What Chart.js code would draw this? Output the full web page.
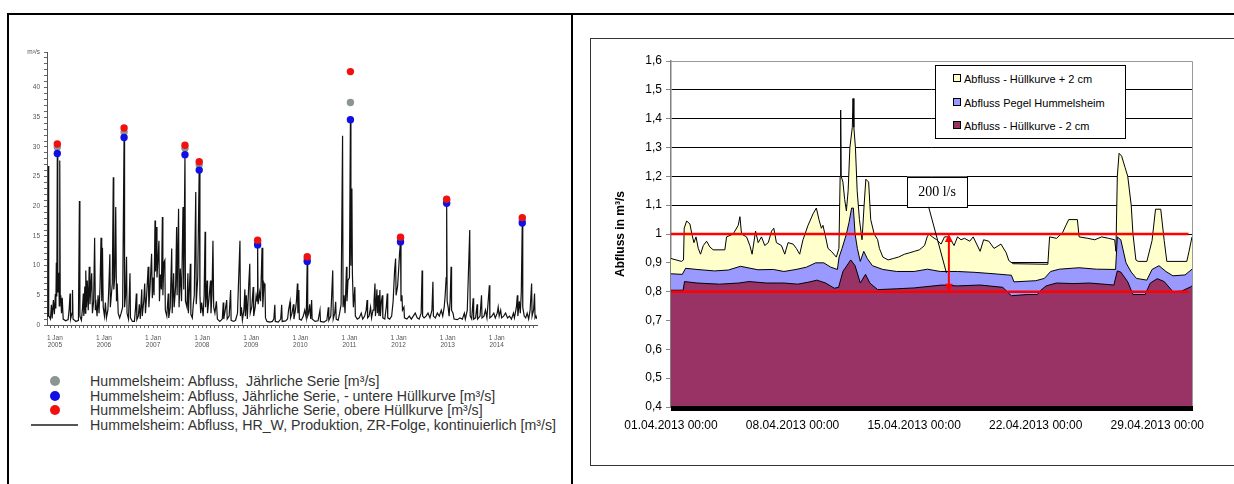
<!DOCTYPE html>
<html lang="de">
<head>
<meta charset="UTF-8">
<title>Abfluss Hummelsheim</title>
<script src="https://cdn.jsdelivr.net/npm/chart.js"></script>
<style>
  body { margin:0; width:1234px; height:484px; overflow:hidden; background:#fff; position:relative;
         font-family:"Liberation Sans", Arial, sans-serif; }
  .rule { position:absolute; background:#000; }
  #leftCanvas { position:absolute; left:10px; top:40px; }
  #rightBox { position:absolute; left:590px; top:38px; width:660px; height:426px; border:1px solid #333; }
  #rightCanvas { position:absolute; left:591px; top:39px; }
  .lrow { position:absolute; left:30px; height:16px; line-height:16px; font-size:14.2px; color:#333; white-space:pre; }
  .lmark { display:inline-block; width:50px; height:16px; vertical-align:top; position:relative; }
  .lmark .dot { position:absolute; left:20px; top:3px; width:10px; height:10px; border-radius:50%; }
  .lmark .ln { position:absolute; left:1px; top:7px; width:47px; height:2px; background:#555; }
  .ltext { margin-left:10px; }
  #rightLegend { position:absolute; left:935px; top:65px; width:189px; height:72px; border:1px solid #000; background:#fff; }
  .rrow { position:absolute; left:17px; height:14px; line-height:14px; font-size:11px; color:#000; white-space:nowrap; }
  .rrow .sq { display:inline-block; width:6px; height:6px; border:1px solid #000; margin-right:3px; vertical-align:1px; }
</style>
</head>
<body>
<div class="rule" style="left:8px; top:13px; width:1230px; height:2px;"></div>
<div class="rule" style="left:7px; top:13px; width:2px; height:480px;"></div>
<div class="rule" style="left:571px; top:13px; width:2px; height:480px;"></div>

<canvas id="leftCanvas" width="555" height="320"></canvas>
<div id="leftLegend"></div>

<div id="rightBox"></div>
<canvas id="rightCanvas" width="643" height="425"></canvas>
<div id="rightLegend"></div>

<script>
// ---------- left chart: Hummelsheim 2005-2014 ----------
const yearTicks = [2005, 2006, 2007, 2008, 2009, 2010, 2011, 2012, 2013, 2014];

// continuous discharge [decimal year, m³/s]
const flowSeries = [
  [2004.84,1.5],[2004.86,2.6],[2004.87,26.8],[2004.875,1.6],[2004.91,1.0],[2004.93,3.4],[2004.945,1.1],
  [2004.97,4.2],[2004.99,1.8],[2005.01,5.2],[2005.02,2.8],[2005.03,10.5],[2005.04,4.8],[2005.05,29.0],
  [2005.06,5.5],[2005.08,8.8],[2005.09,3.2],[2005.10,27.7],[2005.11,3.8],[2005.12,5.0],[2005.135,2.0],
  [2005.15,4.6],[2005.17,1.0],[2005.22,0.7],[2005.27,0.9],[2005.29,2.5],[2005.31,5.3],[2005.32,1.0],
  [2005.35,2.0],[2005.36,5.9],[2005.37,1.0],[2005.43,0.6],[2005.48,0.8],[2005.50,20.9],[2005.51,1.5],
  [2005.54,0.8],[2005.56,2.5],[2005.58,5.3],[2005.59,1.5],[2005.61,6.5],[2005.62,2.0],[2005.63,9.2],
  [2005.645,3.0],[2005.66,7.5],[2005.68,2.5],[2005.70,9.8],[2005.715,3.5],[2005.73,6.0],[2005.75,8.7],
  [2005.765,2.0],[2005.79,4.0],[2005.81,14.7],[2005.825,2.5],[2005.84,3.5],[2005.86,1.5],[2005.88,5.0],
  [2005.90,2.0],[2005.92,6.5],[2005.94,14.7],[2005.955,4.0],[2005.97,13.0],[2005.985,3.0],[2006.01,1.5],
  [2006.03,3.8],[2006.05,1.2],[2006.08,2.5],[2006.10,6.5],[2006.12,11.9],[2006.13,3.0],[2006.15,5.0],
  [2006.17,7.0],[2006.19,24.9],[2006.20,6.0],[2006.22,8.0],[2006.24,19.9],[2006.255,4.0],[2006.27,7.0],
  [2006.29,2.0],[2006.32,1.2],[2006.35,2.0],[2006.38,3.0],[2006.41,31.7],[2006.42,3.0],[2006.44,5.0],
  [2006.46,11.5],[2006.47,2.0],[2006.50,1.0],[2006.53,8.7],[2006.54,1.2],[2006.58,0.6],[2006.62,0.6],
  [2006.64,2.5],[2006.66,5.3],[2006.67,0.9],[2006.70,1.5],[2006.72,3.5],[2006.74,1.0],[2006.77,6.0],
  [2006.78,1.5],[2006.81,4.0],[2006.83,7.0],[2006.845,2.0],[2006.87,5.0],[2006.90,9.8],[2006.915,3.0],
  [2006.94,6.5],[2006.97,12.0],[2006.985,4.5],[2007.00,8.0],[2007.02,5.0],[2007.04,17.6],[2007.05,9.0],
  [2007.07,16.5],[2007.08,8.0],[2007.10,11.0],[2007.12,14.2],[2007.13,4.0],[2007.15,8.5],[2007.17,6.0],
  [2007.19,18.2],[2007.20,5.0],[2007.22,10.5],[2007.24,10.9],[2007.25,2.5],[2007.28,1.5],[2007.31,5.3],
  [2007.32,1.2],[2007.35,3.0],[2007.38,12.9],[2007.39,2.0],[2007.42,8.7],[2007.43,3.0],[2007.46,6.5],
  [2007.48,16.5],[2007.49,5.0],[2007.52,19.6],[2007.53,3.0],[2007.555,9.5],[2007.58,4.0],[2007.61,19.9],
  [2007.625,6.0],[2007.65,28.8],[2007.66,4.0],[2007.69,3.0],[2007.71,8.7],[2007.72,2.0],[2007.74,6.0],
  [2007.76,10.3],[2007.77,1.8],[2007.80,1.2],[2007.82,3.5],[2007.84,5.0],[2007.87,22.4],[2007.88,3.5],
  [2007.91,8.0],[2007.94,26.3],[2007.955,5.0],[2007.97,2.0],[2007.99,3.8],[2008.02,1.5],[2008.04,5.0],
  [2008.06,15.7],[2008.07,3.0],[2008.10,7.5],[2008.11,2.0],[2008.14,4.5],[2008.17,7.5],[2008.18,2.0],
  [2008.20,5.0],[2008.22,14.2],[2008.235,3.0],[2008.26,2.0],[2008.29,4.0],[2008.31,1.0],[2008.36,0.6],
  [2008.41,1.0],[2008.43,3.8],[2008.44,1.0],[2008.47,2.5],[2008.50,4.2],[2008.51,1.0],[2008.55,1.5],
  [2008.58,5.9],[2008.59,0.8],[2008.64,0.6],[2008.68,0.8],[2008.72,2.0],[2008.77,14.2],[2008.78,1.5],
  [2008.80,3.0],[2008.82,0.8],[2008.85,2.5],[2008.87,6.0],[2008.88,1.5],[2008.90,5.0],[2008.92,1.0],
  [2008.95,7.0],[2008.97,10.3],[2008.98,2.0],[2009.01,3.0],[2009.04,6.4],[2009.05,1.5],[2009.08,3.0],
  [2009.10,5.0],[2009.12,4.0],[2009.13,13.5],[2009.14,3.5],[2009.17,5.5],[2009.19,4.0],[2009.22,13.0],
  [2009.235,3.0],[2009.26,7.0],[2009.28,6.4],[2009.29,1.2],[2009.32,0.6],[2009.38,0.5],[2009.43,0.6],
  [2009.46,1.0],[2009.48,3.4],[2009.49,0.6],[2009.55,0.5],[2009.60,1.0],[2009.62,3.4],[2009.63,0.6],
  [2009.70,0.7],[2009.74,1.0],[2009.76,2.5],[2009.79,3.9],[2009.80,1.2],[2009.83,2.0],[2009.86,3.5],
  [2009.87,1.0],[2009.90,2.5],[2009.92,4.0],[2009.94,7.0],[2009.95,2.0],[2009.97,5.9],[2009.98,1.0],
  [2010.02,0.8],[2010.06,1.5],[2010.09,2.5],[2010.12,1.2],[2010.14,10.7],[2010.15,1.5],[2010.17,2.0],
  [2010.19,3.5],[2010.21,1.0],[2010.23,4.2],[2010.24,1.0],[2010.30,0.6],[2010.36,0.7],[2010.40,2.5],
  [2010.41,0.6],[2010.48,0.5],[2010.54,0.8],[2010.57,3.0],[2010.58,0.8],[2010.62,1.5],[2010.66,9.2],
  [2010.67,1.0],[2010.70,2.0],[2010.72,3.9],[2010.73,1.0],[2010.77,0.8],[2010.80,2.0],[2010.83,3.5],
  [2010.86,31.9],[2010.87,3.0],[2010.89,5.0],[2010.91,2.0],[2010.94,9.8],[2010.95,4.0],[2010.97,7.5],
  [2011.00,8.0],[2011.02,34.7],[2011.03,10.0],[2011.05,23.0],[2011.06,8.7],[2011.08,3.0],[2011.11,6.4],
  [2011.12,1.5],[2011.16,1.0],[2011.20,1.2],[2011.24,2.0],[2011.27,1.0],[2011.31,1.5],[2011.34,2.5],
  [2011.36,4.2],[2011.37,1.2],[2011.40,1.5],[2011.43,3.0],[2011.45,1.2],[2011.48,2.5],[2011.50,4.0],
  [2011.52,7.0],[2011.53,1.5],[2011.56,6.0],[2011.57,2.0],[2011.59,5.0],[2011.60,1.5],[2011.62,5.9],
  [2011.63,1.5],[2011.65,4.0],[2011.67,5.0],[2011.68,1.2],[2011.72,1.0],[2011.75,3.0],[2011.77,5.3],
  [2011.78,1.2],[2011.82,1.0],[2011.86,1.5],[2011.89,4.0],[2011.92,9.2],[2011.94,11.2],[2011.95,5.0],
  [2011.98,6.5],[2012.00,9.0],[2012.02,12.0],[2012.04,14.1],[2012.05,4.0],[2012.07,5.0],[2012.08,2.5],
  [2012.11,3.0],[2012.12,1.2],[2012.17,1.0],[2012.22,1.5],[2012.26,1.0],[2012.30,1.5],[2012.34,2.0],
  [2012.38,1.2],[2012.42,1.0],[2012.46,2.0],[2012.48,9.2],[2012.49,1.5],[2012.52,1.2],[2012.56,1.5],
  [2012.60,2.0],[2012.64,1.2],[2012.68,2.5],[2012.70,7.3],[2012.71,1.5],[2012.75,1.2],[2012.79,2.0],
  [2012.83,1.5],[2012.87,2.5],[2012.90,1.5],[2012.93,3.0],[2012.95,5.0],[2012.97,8.0],[2012.98,20.5],
  [2012.99,4.0],[2013.01,3.0],[2013.03,1.5],[2013.05,4.0],[2013.07,9.8],[2013.08,2.5],[2013.11,2.0],
  [2013.13,1.0],[2013.20,0.9],[2013.25,1.2],[2013.30,1.0],[2013.34,2.0],[2013.36,1.0],[2013.40,2.5],
  [2013.45,16.0],[2013.46,1.5],[2013.49,1.0],[2013.52,4.5],[2013.53,1.0],[2013.57,1.2],[2013.60,3.5],
  [2013.61,1.0],[2013.66,1.5],[2013.69,5.0],[2013.70,1.2],[2013.74,1.5],[2013.77,2.5],[2013.80,1.2],
  [2013.85,6.7],[2013.86,1.2],[2013.90,1.5],[2013.94,2.0],[2013.97,1.2],[2014.01,2.0],[2014.03,3.0],
  [2014.05,1.5],[2014.08,2.5],[2014.10,1.2],[2014.14,1.5],[2014.18,2.0],[2014.22,1.2],[2014.26,1.5],
  [2014.30,1.0],[2014.34,2.0],[2014.36,1.2],[2014.40,3.0],[2014.42,5.0],[2014.43,1.5],[2014.46,4.0],
  [2014.48,2.0],[2014.50,5.5],[2014.52,17.3],[2014.53,3.0],[2014.56,1.5],[2014.59,1.2],[2014.62,2.0],
  [2014.65,1.0],[2014.68,2.5],[2014.71,7.0],[2014.72,1.5],[2014.75,2.5],[2014.77,5.3],[2014.78,1.2],
  [2014.80,1.5],[2014.82,1.0]
];

// annual maxima
const peakYears     = [2005.05, 2006.41, 2007.65, 2007.94, 2009.13, 2010.14, 2011.02, 2012.04, 2012.98, 2014.52];
const annualSeries  = [30.0, 32.5, 29.8, 27.0, 13.9, 11.1, 37.5, 14.5, 20.9, 17.7];
const lowerEnvelope = [28.9, 31.6, 28.7, 26.1, 13.5, 10.7, 34.6, 14.0, 20.5, 17.2];
const upperEnvelope = [30.5, 33.2, 30.3, 27.5, 14.3, 11.5, 42.7, 14.8, 21.2, 18.1];

const leftLegendLabels = [
  'Hummelsheim: Abfluss,  Jährliche Serie [m³/s]',
  'Hummelsheim: Abfluss, Jährliche Serie, - untere Hüllkurve [m³/s]',
  'Hummelsheim: Abfluss, Jährliche Serie, obere Hüllkurve [m³/s]',
  'Hummelsheim: Abfluss, HR_W, Produktion, ZR-Folge, kontinuierlich [m³/s]'
];
const leftColors = ['#8c9690', '#1010e6', '#f01010', '#111111'];

// ---------- right chart: April 2013 ----------
const monthLabel = '.04.2013 00:00';
const dayTicks = [0, 7, 14, 21, 28];

// [day since 01.04.2013, m³/s]
const upperCurve = [
  [0,0.915],[0.6,0.905],[0.72,0.91],[0.76,1.02],[0.9,1.045],[1.09,1.035],[1.2,1.0],[1.32,0.97],[1.44,0.99],
  [1.57,0.95],[1.7,0.93],[1.86,0.96],[2.05,0.975],[2.24,0.955],[2.43,0.945],[3.1,0.945],[3.2,0.99],[3.58,1.0],
  [3.87,1.03],[3.97,1.06],[4.06,1.0],[4.35,0.99],[4.54,0.96],[4.67,0.93],[4.87,1.01],[5.02,0.97],[5.21,0.99],
  [5.4,0.96],[5.6,0.97],[5.79,1.01],[5.92,1.02],[6.07,0.97],[6.36,0.96],[6.55,0.93],[6.74,0.97],[7.03,0.965],
  [7.22,0.95],[7.41,0.93],[7.6,0.98],[7.89,1.03],[8.18,1.07],[8.37,1.09],[8.52,1.05],[8.66,1.02],[8.75,1.03],
  [8.9,0.99],[9.04,0.95],[9.23,0.94],[9.52,0.92],[9.67,0.95],[9.74,1.2],[9.77,1.43],[9.8,1.2],[9.9,1.18],
  [10.0,1.12],[10.1,1.08],[10.2,1.15],[10.3,1.3],[10.44,1.37],[10.48,1.47],[10.53,1.37],[10.62,1.3],
  [10.72,1.15],[10.85,1.05],[11.0,0.98],[11.12,1.1],[11.22,1.19],[11.38,1.18],[11.5,1.05],[11.7,1.0],
  [11.9,0.98],[12.0,0.95],[12.2,0.92],[12.5,0.91],[12.8,0.915],[13.1,0.92],[13.45,0.93],[13.75,0.935],
  [14.02,0.94],[14.3,0.945],[14.6,0.96],[14.75,0.99],[14.85,1.0],[15.05,0.99],[15.3,0.98],[15.55,0.965],
  [15.75,0.99],[16.0,0.99],[16.3,0.96],[16.5,0.99],[16.7,0.98],[16.9,0.985],[17.2,0.975],[17.4,0.99],
  [17.8,0.94],[18.0,0.98],[18.3,0.975],[18.6,0.95],[19.0,0.965],[19.3,0.935],[19.45,0.908],[19.7,0.897],
  [21.7,0.895],[21.8,0.99],[22.2,0.985],[22.55,1.005],[22.74,1.03],[22.9,1.05],[23.4,1.05],[23.5,0.99],
  [24.0,0.985],[24.4,0.98],[24.8,0.99],[25.2,0.985],[25.55,0.98],[25.62,0.94],[25.7,1.2],[25.8,1.28],
  [25.95,1.27],[26.15,1.23],[26.3,1.2],[26.5,1.1],[26.6,1.0],[26.77,0.91],[26.9,0.905],[27.4,0.905],
  [27.7,0.977],[27.9,1.086],[28.2,1.086],[28.4,0.977],[28.55,0.905],[29.7,0.905],[29.83,0.94],[30,0.99]
];
const gaugeCurve = [
  [0,0.862],[0.65,0.86],[0.84,0.881],[1.5,0.877],[2.5,0.872],[3.3,0.875],[4.0,0.888],[5.0,0.876],[5.9,0.877],
  [6.5,0.87],[7.2,0.877],[7.8,0.885],[8.33,0.9],[8.8,0.9],[9.2,0.885],[9.58,0.877],[9.68,0.92],[9.85,0.95],
  [10.1,1.0],[10.25,1.04],[10.4,1.09],[10.5,1.09],[10.6,1.0],[10.73,0.95],[10.9,0.905],[11.1,0.94],
  [11.3,0.915],[11.6,0.89],[12.2,0.877],[13.0,0.87],[14.0,0.87],[14.77,0.878],[15.5,0.87],[16.5,0.87],
  [17.5,0.867],[18.6,0.862],[19.4,0.858],[19.6,0.857],[19.75,0.834],[21.0,0.838],[21.5,0.846],[21.86,0.87],
  [22.36,0.878],[23.5,0.883],[24.5,0.878],[25.6,0.877],[25.7,0.99],[25.9,0.98],[26.2,0.9],[26.5,0.868],
  [26.8,0.846],[27.4,0.84],[27.7,0.877],[28.1,0.89],[28.5,0.87],[28.9,0.855],[29.6,0.858],[30,0.878]
];
const lowerCurve = [
  [0,0.805],[0.7,0.805],[0.78,0.835],[1.5,0.83],[2.8,0.826],[3.9,0.83],[4.5,0.835],[5.5,0.83],[6.5,0.83],
  [7.3,0.826],[8.0,0.834],[8.4,0.84],[8.9,0.83],[9.4,0.812],[9.65,0.815],[9.9,0.87],[10.35,0.91],[10.6,0.89],
  [10.9,0.83],[11.2,0.86],[11.45,0.83],[11.9,0.807],[13.0,0.81],[14.0,0.813],[15.6,0.823],[16.5,0.82],
  [17.8,0.823],[19.1,0.815],[19.6,0.786],[20.5,0.79],[21.1,0.79],[21.3,0.805],[21.6,0.82],[22.2,0.83],
  [23.2,0.828],[24.1,0.83],[25.5,0.823],[25.7,0.872],[25.9,0.868],[26.3,0.834],[26.6,0.79],[27.3,0.79],
  [27.6,0.83],[28.0,0.845],[28.4,0.835],[28.9,0.8],[29.4,0.802],[29.9,0.816],[30,0.82]
];
const limitLines = [1.0, 0.8];
const limitEndDay = 29.8;
const arrowDay = 16.0;
const callout = { text: '200 l/s', day: 15.32, value: 1.147, fromDay: 14.83, toDay: 15.86, toValue: 0.865 };

const rightLegendLabels = ['Abfluss - Hüllkurve + 2 cm', 'Abfluss Pegel Hummelsheim', 'Abfluss - Hüllkurve - 2 cm'];
const rightColors = ['#ffffcc', '#9999ff', '#993366'];

const toXY = arr => arr.map(p => ({ x: p[0], y: p[1] }));

// ---------- legends (HTML) ----------
const leftLegend = document.getElementById('leftLegend');
[373, 388, 402, 417].forEach((top, i) => {
  const row = document.createElement('div');
  row.className = 'lrow';
  row.style.top = top + 'px';
  const mark = i < 3
    ? '<span class="dot" style="background:' + leftColors[i] + '"></span>'
    : '<span class="ln"></span>';
  row.innerHTML = '<span class="lmark">' + mark + '</span><span class="ltext"></span>';
  row.querySelector('.ltext').textContent = leftLegendLabels[i];
  leftLegend.appendChild(row);
});

const rightLegend = document.getElementById('rightLegend');
[6, 30, 53].forEach((top, i) => {
  const row = document.createElement('div');
  row.className = 'rrow';
  row.style.top = top + 'px';
  row.innerHTML = '<span class="sq" style="background:' + rightColors[i] + '"></span>';
  row.appendChild(document.createTextNode(rightLegendLabels[i]));
  rightLegend.appendChild(row);
});

Chart.defaults.font.family = '"Liberation Sans", Arial, sans-serif';

// ---------- left chart ----------
const leftX = { min: 2004.84, max: 2014.82 };
new Chart(document.getElementById('leftCanvas'), {
  type: 'line',
  data: {
    datasets: [
      { label: leftLegendLabels[2], data: peakYears.map((x, i) => ({ x, y: upperEnvelope[i] })), showLine: false,
        pointRadius: 3.7, pointBackgroundColor: leftColors[2], pointBorderWidth: 0, order: 1 },
      { label: leftLegendLabels[1], data: peakYears.map((x, i) => ({ x, y: lowerEnvelope[i] })), showLine: false,
        pointRadius: 3.7, pointBackgroundColor: leftColors[1], pointBorderWidth: 0, order: 2 },
      { label: leftLegendLabels[0], data: peakYears.map((x, i) => ({ x, y: annualSeries[i] })), showLine: false,
        pointRadius: 3.7, pointBackgroundColor: leftColors[0], pointBorderWidth: 0, order: 3 },
      { label: leftLegendLabels[3], data: toXY(flowSeries), borderColor: leftColors[3], borderWidth: 1.2,
        pointRadius: 0, tension: 0, fill: false, order: 4 }
    ]
  },
  options: {
    responsive: false, animation: false,
    layout: { padding: { top: 12, right: 28, left: 0, bottom: 0 } },
    plugins: { legend: { display: false }, tooltip: { enabled: false } },
    scales: {
      x: {
        type: 'linear', min: leftX.min, max: leftX.max,
        afterBuildTicks: s => {
          const t = [];
          for (let yr = 2004; yr <= 2014; yr++) for (let m = 0; m < 12; m++) {
            const v = yr + m / 12;
            if (v >= leftX.min && v <= leftX.max) t.push({ value: v });
          }
          s.ticks = t;
        },
        afterFit: s => { s.height = 35; },
        ticks: {
          autoSkip: false, maxRotation: 0, padding: 6, color: '#555', font: { size: 6.5 },
          callback: v => {
            const yr = Math.round(v);
            return (Math.abs(v - yr) < 1e-6 && yearTicks.includes(yr)) ? ['1 Jan', String(yr)] : '';
          }
        },
        grid: { drawOnChartArea: false, tickLength: 3, color: '#666' },
        border: { color: '#555' }
      },
      y: {
        min: 0, max: 46,
        afterBuildTicks: s => { const t = []; for (let v = 0; v <= 46; v++) t.push({ value: v }); s.ticks = t; },
        afterFit: s => { s.width = 37; },
        ticks: {
          autoSkip: false, padding: 4, color: '#555', font: { size: 6.5 },
          callback: v => v === 46 ? 'm³/s' : ((v % 5 === 0 && v <= 40) ? String(v) : '')
        },
        grid: { drawOnChartArea: false, tickLength: 3, color: '#666' },
        border: { color: '#555' }
      }
    }
  }
});

// ---------- right chart ----------
const frame = {
  id: 'frame',
  beforeDatasetsDraw(chart) {
    const { ctx, chartArea: a } = chart;
    ctx.save();
    ctx.strokeStyle = '#999';
    ctx.lineWidth = 1;
    ctx.beginPath();
    ctx.moveTo(a.left, a.top + 0.5);
    ctx.lineTo(a.right + 0.5, a.top + 0.5);
    ctx.lineTo(a.right + 0.5, a.bottom);
    ctx.stroke();
    ctx.restore();
  },
  afterDraw(chart) {
    // heavy category axis line along the bottom
    const { ctx, chartArea: a } = chart;
    ctx.save();
    ctx.fillStyle = '#000';
    ctx.fillRect(a.left, a.bottom - 1, a.right - a.left + 1, 5);
    ctx.restore();
  }
};

const annotate = {
  id: 'annotate',
  afterDatasetsDraw(chart) {
    const { ctx, scales: { x, y } } = chart;
    ctx.save();
    // double arrow between the two limits
    const ax = x.getPixelForValue(arrowDay);
    const y1 = y.getPixelForValue(limitLines[0]);
    const y2 = y.getPixelForValue(limitLines[1]);
    ctx.strokeStyle = '#ff0000';
    ctx.fillStyle = '#ff0000';
    ctx.lineWidth = 2;
    ctx.beginPath();
    ctx.moveTo(ax, y1 + 6);
    ctx.lineTo(ax, y2 - 6);
    ctx.stroke();
    ctx.beginPath();
    ctx.moveTo(ax, y1); ctx.lineTo(ax - 4, y1 + 8); ctx.lineTo(ax + 4, y1 + 8); ctx.closePath();
    ctx.moveTo(ax, y2); ctx.lineTo(ax - 4, y2 - 8); ctx.lineTo(ax + 4, y2 - 8); ctx.closePath();
    ctx.fill();

    // callout box with leader line
    const cx = x.getPixelForValue(callout.day);
    const cy = y.getPixelForValue(callout.value);
    const w = 60, h = 30;
    ctx.strokeStyle = '#000';
    ctx.lineWidth = 1;
    ctx.beginPath();
    ctx.moveTo(x.getPixelForValue(callout.fromDay), cy + h / 2);
    ctx.lineTo(x.getPixelForValue(callout.toDay), y.getPixelForValue(callout.toValue));
    ctx.stroke();
    ctx.fillStyle = '#fff';
    ctx.fillRect(cx - w / 2, cy - h / 2, w, h);
    ctx.strokeRect(Math.round(cx - w / 2) + 0.5, Math.round(cy - h / 2) + 0.5, w, h);
    ctx.fillStyle = '#000';
    ctx.font = '14px "Liberation Serif", "Times New Roman", serif';
    ctx.textAlign = 'center';
    ctx.textBaseline = 'middle';
    ctx.fillText(callout.text, cx, cy + 1);
    ctx.restore();
  }
};

const areaStyle = (label, data, color, order) => ({
  label, data: toXY(data), backgroundColor: color, borderColor: '#000', borderWidth: 1,
  pointRadius: 0, tension: 0, fill: 'start', order
});

new Chart(document.getElementById('rightCanvas'), {
  type: 'line',
  data: {
    datasets: [
      ...limitLines.map(v => ({
        label: 'Grenze ' + v, data: [{ x: 0, y: v }, { x: limitEndDay, y: v }],
        borderColor: '#ff0000', borderWidth: 2.5, pointRadius: 0, fill: false, order: 0
      })),
      areaStyle(rightLegendLabels[2], lowerCurve, rightColors[2], 1),
      areaStyle(rightLegendLabels[1], gaugeCurve, rightColors[1], 2),
      areaStyle(rightLegendLabels[0], upperCurve, rightColors[0], 3)
    ]
  },
  options: {
    responsive: false, animation: false,
    layout: { padding: { top: 22, right: 42, left: 0, bottom: 0 } },
    plugins: { legend: { display: false }, tooltip: { enabled: false } },
    scales: {
      x: {
        type: 'linear', min: 0, max: 30,
        afterBuildTicks: s => { s.ticks = dayTicks.map(v => ({ value: v })); },
        afterFit: s => { s.height = 57; },
        ticks: {
          autoSkip: false, maxRotation: 0, padding: 11, color: '#000', font: { size: 12 },
          callback: v => String(v + 1).padStart(2, '0') + monthLabel
        },
        grid: { display: false, drawTicks: false },
        border: { display: false }
      },
      y: {
        min: 0.4, max: 1.6,
        ticks: {
          stepSize: 0.1, padding: 4, color: '#000', font: { size: 12 },
          callback: v => String(Math.round(v * 10) / 10).replace('.', ',')
        },
        afterFit: s => { s.width = 80; },
        grid: {
          color: c => (c.tick && (Math.abs(c.tick.value - 1.6) < 1e-6)) ? '#999' : '#000',
          lineWidth: 1, tickLength: 5, tickColor: '#888'
        },
        border: { color: '#808080', width: 1.5 },
        title: { display: true, text: 'Abfluss in m³/s', color: '#000',
                 font: { size: 12, weight: 'bold' }, padding: { top: 22, bottom: 0 } }
      }
    }
  },
  plugins: [frame, annotate]
});
</script>
</body>
</html>
